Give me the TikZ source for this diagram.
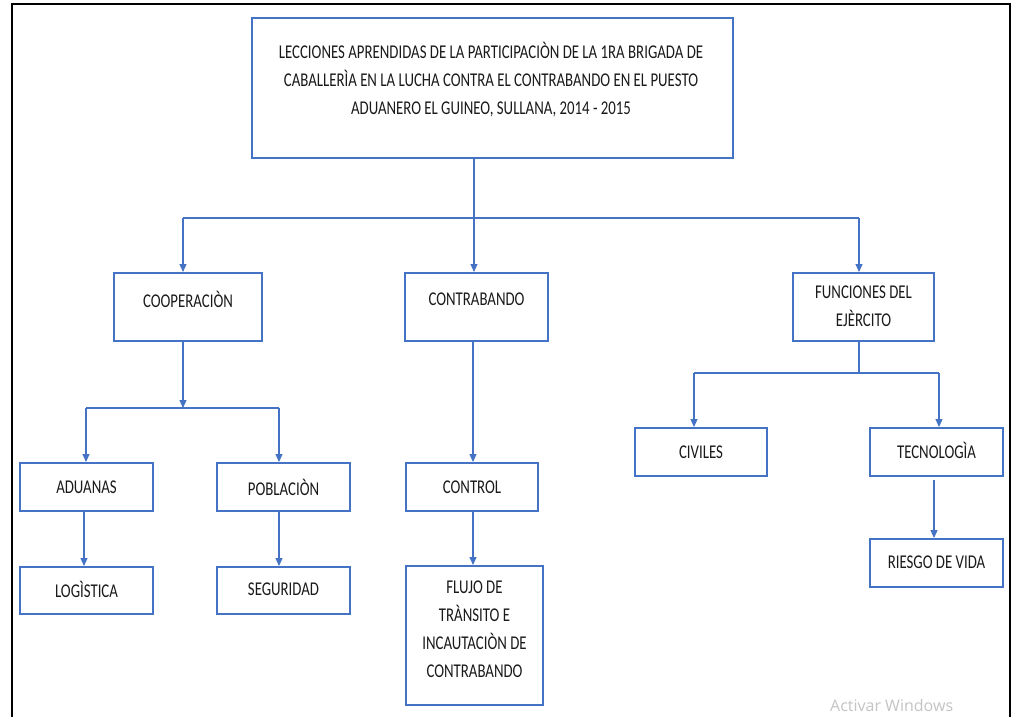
\documentclass[tikz,border=0pt]{standalone}
\usepackage{fontspec}
\setmainfont{Carlito}[FakeStretch=0.76]
\newfontfamily\wmfont{Open Sans}
\usetikzlibrary{arrows.meta,calc}
\definecolor{boxblue}{HTML}{4472C4}
\definecolor{txtgray}{HTML}{1A1A1A}
\definecolor{wmgray}{HTML}{C4C4C4}
\begin{document}
\begin{tikzpicture}[x=1pt,y=-1pt,
  box/.style={draw=boxblue,line width=2pt,fill=white,inner sep=0pt},
  lbl/.style={text=txtgray,font=\fontsize{19.5}{28}\selectfont,align=center,inner sep=0pt},
  conn/.style={draw=boxblue,line width=1.1pt},
  arr/.style={conn,-{Triangle[length=8pt,width=7pt]}}]
\useasboundingbox (0,0) rectangle (1017,716);
\fill[white] (0,0) rectangle (1017,716);
% outer frame
\draw[line width=2pt,black] (12,722) -- (12,4) -- (1010,4) -- (1010,722);
% boxes
\node[box,minimum width=481pt,minimum height=140pt] (title) at (492.5,88) {};
\node[lbl] (titlet) at (491,80) {LECCIONES APRENDIDAS DE LA PARTICIPACIÒN DE LA 1RA BRIGADA DE\\CABALLERÌA EN LA LUCHA CONTRA EL CONTRABANDO EN EL PUESTO\\ADUANERO EL GUINEO, SULLANA, 2014 - 2015};
\node[box,minimum width=148pt,minimum height=68pt] (coop) at (188,307) {};
\node[lbl] (coopt) at (188,299) {COOPERACIÒN};
\node[box,minimum width=143pt,minimum height=68pt] (contra) at (476.5,307) {};
\node[lbl] (contrat) at (476.5,299) {CONTRABANDO};
\node[box,minimum width=141pt,minimum height=68pt] (func) at (863.5,307) {};
\node[lbl] (funct) at (863.5,306) {FUNCIONES DEL\\EJÈRCITO};
\node[box,minimum width=133pt,minimum height=48pt] (adu) at (86.5,487) {};
\node[lbl] (adut) at (86.5,487) {ADUANAS};
\node[box,minimum width=133pt,minimum height=48pt] (pob) at (283.5,487) {};
\node[lbl] (pobt) at (283.5,487) {POBLACIÒN};
\node[box,minimum width=132pt,minimum height=48pt] (ctrl) at (472,487) {};
\node[lbl] (ctrlt) at (472,487) {CONTROL};
\node[box,minimum width=132pt,minimum height=48pt] (civ) at (701,452) {};
\node[lbl] (civt) at (701,452) {CIVILES};
\node[box,minimum width=133pt,minimum height=48pt] (tec) at (936.5,452) {};
\node[lbl] (tect) at (936.5,450) {TECNOLOGÌA};
\node[box,minimum width=133pt,minimum height=47pt] (log) at (86.5,590.5) {};
\node[lbl] (logt) at (86.5,589) {LOGÌSTICA};
\node[box,minimum width=133pt,minimum height=47pt] (seg) at (283.5,590.5) {};
\node[lbl] (segt) at (283.5,589) {SEGURIDAD};
\node[box,minimum width=137pt,minimum height=139pt] (flujo) at (474.5,635.5) {};
\node[lbl] (flujot) at (474.5,629.5) {FLUJO DE\\TRÀNSITO E\\INCAUTACIÒN DE\\CONTRABANDO};
\node[box,minimum width=133pt,minimum height=48pt] (ries) at (936.5,563) {};
\node[lbl] (riest) at (936.5,562) {RIESGO DE VIDA};
% junction coordinates
\coordinate (j1) at (474,218);
\coordinate (j2) at (183,408);
\coordinate (j3) at (859,373);
% connectors
\draw[conn] (title.south -| j1) -- (j1);
\draw[conn] (183,218) -- (859,218);
\draw[arr] (183,218) -- (coop.north -| 183,0);
\draw[arr] (j1) -- (contra.north -| j1);
\draw[arr] (859,218) -- (func.north -| 859,0);
\draw[arr] (coop.south -| j2) -- (j2);
\draw[conn] (86,408) -- (279,408);
\draw[arr] (86,408) -- (adu.north -| 86,0);
\draw[arr] (279,408) -- (pob.north -| 279,0);
\draw[arr] (adu.south -| 84,0) -- (log.north -| 84,0);
\draw[arr] (pob.south -| 279,0) -- (seg.north -| 279,0);
\draw[arr] (contra.south -| 473,0) -- (ctrl.north -| 473,0);
\draw[arr] (ctrl.south -| 473,0) -- (flujo.north -| 473,0);
\draw[conn] (func.south -| j3) -- (j3);
\draw[conn] (694,373) -- (939,373);
\draw[arr] (694,373) -- (civ.north -| 694,0);
\draw[arr] (939,373) -- (tec.north -| 939,0);
\draw[arr] (934,480) -- (ries.north -| 934,0);
% watermark
\node[text=wmgray,font=\wmfont\fontsize{16}{18}\selectfont,anchor=base west,inner sep=0pt] (wm) at (830,711) {Activar Windows};
\end{tikzpicture}
\end{document}
